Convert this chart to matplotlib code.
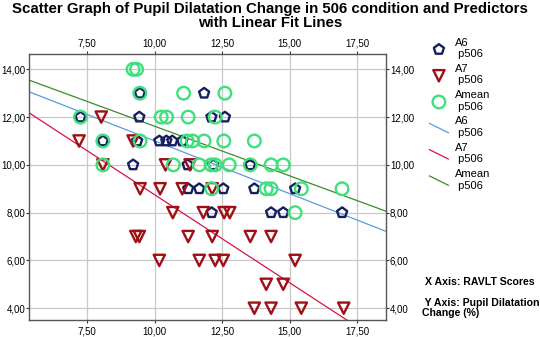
import numpy as np
import matplotlib
matplotlib.use("Agg")
import matplotlib.pyplot as plt
from matplotlib.lines import Line2D
from matplotlib.legend_handler import HandlerLine2D
from matplotlib.ticker import FuncFormatter

plt.rcParams["font.family"] = ["Liberation Sans", "DejaVu Sans"]

# data (x = RAVLT score, y = pupil dilatation change)
a6_x = [9.45, 11.83,
        7.25, 9.43, 12.10, 12.60,
        8.08, 9.35, 10.17, 10.43, 10.65, 11.02,
        9.20, 11.22, 12.17, 13.54,
        11.24, 11.65, 12.54, 13.69, 15.20,
        12.11, 14.31, 14.76, 16.94]
a6_y = [13, 13,
        12, 12, 12, 12,
        11, 11, 11, 11, 11, 11,
        10, 10, 10, 10,
        9, 9, 9, 9, 9,
        8, 8, 8, 8]

a7_x = [8.02,
        7.20, 9.20,
        8.08, 10.40, 11.31,
        9.46, 10.20, 11.02, 12.13,
        10.67, 11.80, 12.57, 12.78,
        9.30, 9.43, 11.24, 12.13, 13.54, 14.31,
        10.17, 11.65, 12.24, 12.54, 15.20,
        14.13, 14.76,
        13.69, 14.31, 15.43, 17.00]
a7_y = [12,
        11, 11,
        10, 10, 10,
        9, 9, 9, 9,
        8, 8, 8, 8,
        7, 7, 7, 7, 7, 7,
        6, 6, 6, 6, 6,
        5, 5,
        4, 4, 4, 4]

amean_x = [9.20, 9.33,
           9.45, 11.07, 12.60,
           7.25, 10.24, 10.44, 11.24, 12.24,
           8.08, 9.46, 11.20, 11.40, 11.83, 12.56, 13.69,
           8.08, 10.69, 11.65, 12.09, 12.24, 12.76, 13.54, 14.31, 14.76,
           12.11, 14.13, 14.31, 15.43, 16.94,
           15.20]
amean_y = [14, 14,
           13, 13, 13,
           12, 12, 12, 12, 12,
           11, 11, 11, 11, 11, 11, 11,
           10, 10, 10, 10, 10, 10, 10, 10, 10,
           9, 9, 9, 9, 9,
           8]

series_names = ["A6", "A7", "Amean"]
x_ticks = [7.5, 10.0, 12.5, 15.0, 17.5]
y_ticks = [4, 6, 8, 10, 12, 14]


class HandlerDiag(HandlerLine2D):
    # diagonal line in the legend, like SPSS draws it
    def create_artists(self, legend, orig_handle, xdescent, ydescent,
                       width, height, fontsize, trans):
        line = Line2D([-xdescent, -xdescent + width],
                      [-ydescent + height, -ydescent - 0.2 * height])
        self.update_prop(line, orig_handle, legend)
        line.set_transform(trans)
        return [line]


fig = plt.figure(figsize=(5.4, 3.37), dpi=100)
ax = fig.add_axes([0.054, 0.050, 0.661, 0.789])

marker_cols = ["#16205f", "#9e1016", "#3ee07c"]
line_cols = ["#5b9be0", "#d4134a", "#3c8b2c"]
markers = ["p", "v", "o"]
sizes = [58, 66, 82]

xs = [a6_x, a7_x, amean_x]
ys = [a6_y, a7_y, amean_y]

xlim = (5.35, 18.57)
ylim = (3.50, 14.63)

pts = []
for x, y, m, c, s in zip(xs, ys, markers, marker_cols, sizes):
    h = ax.scatter(x, y, marker=m, s=s, facecolors="none", edgecolors=c,
                   linewidths=1.7, zorder=3)
    pts.append(h)

fits = []
xx = np.array(xlim)
for x, y, c in zip(xs, ys, line_cols):
    k, b = np.polyfit(x, y, 1)
    l, = ax.plot(xx, k * xx + b, color=c, lw=0.9, zorder=2)
    fits.append(l)

ax.set_xlim(*xlim)
ax.set_ylim(*ylim)
ax.set_xticks(x_ticks)
ax.set_yticks(y_ticks)
fmt = FuncFormatter(lambda v, p: f"{v:.2f}".replace(".", ","))
ax.xaxis.set_major_formatter(fmt)
ax.yaxis.set_major_formatter(fmt)
ax.tick_params(axis="both", which="both", labelsize=7, length=2,
               width=0.8, color="#333333", pad=0.8,
               top=True, right=True, labeltop=True, labelright=True)
ax.tick_params(axis="x", pad=2.5)
ax.grid(True, color="#c8c8c8", lw=0.9)
ax.set_axisbelow(True)
for sp in ax.spines.values():
    sp.set_color("#555555")
    sp.set_linewidth(1.0)

fig.text(0.5, 0.995,
         "Scatter Graph of Pupil Dilatation Change in 506 condition and Predictors\nwith Linear Fit Lines",
         ha="center", va="top", fontsize=10.8, fontweight="bold",
         linespacing=1.05)

labels = [n + "\n p506" for n in series_names] * 2
leg = fig.legend(pts + fits, labels, loc="upper left",
                 bbox_to_anchor=(0.785, 0.905), frameon=False, fontsize=8,
                 handlelength=1.7, handletextpad=0.6, labelspacing=0.42,
                 borderpad=0, handler_map={Line2D: HandlerDiag()})

fig.text(0.787, 0.163, "X Axis: RAVLT Scores", fontsize=7.6,
         fontweight="bold", va="center")
fig.text(0.781, 0.087, " Y Axis: Pupil Dilatation\nChange (%)", fontsize=7.6,
         fontweight="bold", va="center", linespacing=1.0)

fig.savefig("out.png", dpi=100)
